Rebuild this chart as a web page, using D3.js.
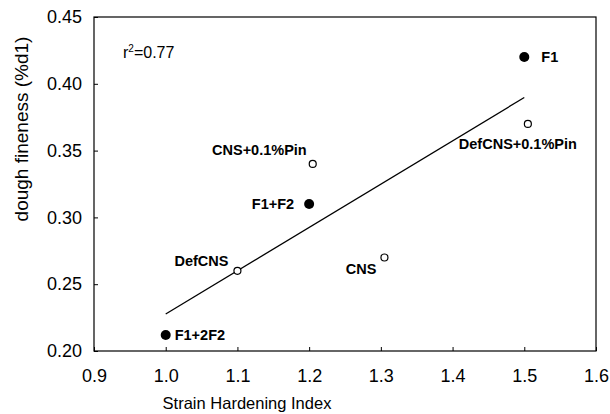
<!DOCTYPE html>
<html>
<head>
<meta charset="utf-8">
<script src="https://cdn.jsdelivr.net/npm/d3@7"></script>
<style>
  body { margin: 0; background: #fff; }
  #chart { width: 610px; height: 414px; }
  text { font-family: "Liberation Sans", Arial, Helvetica, sans-serif; fill: #000; }
</style>
</head>
<body>
<div id="chart"></div>
<script>
// values
const samples = ["F1", "DefCNS+0.1%Pin", "CNS+0.1%Pin", "F1+F2", "DefCNS", "CNS", "F1+2F2"];
const hardening = [1.50, 1.505, 1.205, 1.20, 1.10, 1.305, 1.00];
const fineness = [0.42, 0.37, 0.34, 0.31, 0.26, 0.27, 0.212];
const solid = [true, false, false, true, false, false, true];
const xTicks = [0.9, 1.0, 1.1, 1.2, 1.3, 1.4, 1.5, 1.6];
const yTicks = [0.20, 0.25, 0.30, 0.35, 0.40, 0.45];
const fitFrom = 1.0, fitTo = 1.5;
const rSquared = "0.77";

// where each label sits relative to its point (px)
const labelPlace = [
    { dx: 17, dy: 5, anchor: "start" },
    { dx: -10, dy: 25, anchor: "middle" },
    { dx: -6, dy: -9, anchor: "end" },
    { dx: -15, dy: 5, anchor: "end" },
    { dx: -9, dy: -5, anchor: "end" },
    { dx: -8, dy: 17, anchor: "end" },
    { dx: 9, dy: 5, anchor: "start" }
];

const margin = { top: 17, right: 14, bottom: 63, left: 94 };
const width = 610 - margin.left - margin.right;
const height = 414 - margin.top - margin.bottom;

const svg = d3.select("#chart")
    .append("svg")
    .attr("width", 610)
    .attr("height", 414)
    .append("g")
    .attr("transform", "translate(" + margin.left + "," + margin.top + ")");

const xScale = d3.scaleLinear().domain([0.9, 1.6]).range([0, width]);
const yScale = d3.scaleLinear().domain([0.20, 0.45]).range([height, 0]);

// axes with inward ticks
const xAxis = svg.append("g")
    .attr("transform", "translate(0," + height + ")")
    .call(d3.axisBottom(xScale).tickValues(xTicks).tickFormat(d3.format(".1f"))
        .tickSizeInner(-4).tickSizeOuter(0).tickPadding(18));
const yAxis = svg.append("g")
    .call(d3.axisLeft(yScale).tickValues(yTicks).tickFormat(d3.format(".2f"))
        .tickSizeInner(-4).tickSizeOuter(0).tickPadding(12));

[xAxis, yAxis].forEach(a => {
    a.select(".domain").remove();
    a.selectAll("line").attr("stroke", "#000");
    a.selectAll("text").style("font-size", "18px").attr("font-family", null);
});
xAxis.selectAll("text").attr("dy", "0.71em");

// frame
svg.append("rect")
    .attr("width", width)
    .attr("height", height)
    .attr("fill", "none")
    .attr("stroke", "#000")
    .attr("stroke-width", 1.2);

// least squares line
const mx = d3.mean(hardening), my = d3.mean(fineness);
const sxy = d3.sum(hardening, (v, i) => (v - mx) * (fineness[i] - my));
const sxx = d3.sum(hardening, v => (v - mx) * (v - mx));
const slope = sxy / sxx, icpt = my - slope * mx;

svg.append("line")
    .attr("x1", xScale(fitFrom)).attr("y1", yScale(icpt + slope * fitFrom))
    .attr("x2", xScale(fitTo)).attr("y2", yScale(icpt + slope * fitTo))
    .attr("stroke", "#000")
    .attr("stroke-width", 1.3);

// points
svg.selectAll("circle.pt")
    .data(samples)
    .enter().append("circle")
    .attr("class", "pt")
    .attr("cx", (d, i) => xScale(hardening[i]))
    .attr("cy", (d, i) => yScale(fineness[i]))
    .attr("r", (d, i) => solid[i] ? 5 : 3.5)
    .attr("fill", (d, i) => solid[i] ? "#000" : "#fff")
    .attr("stroke", "#000")
    .attr("stroke-width", (d, i) => solid[i] ? 0 : 1.2);

svg.selectAll("text.lbl")
    .data(samples)
    .enter().append("text")
    .attr("class", "lbl")
    .attr("x", (d, i) => xScale(hardening[i]) + labelPlace[i].dx)
    .attr("y", (d, i) => yScale(fineness[i]) + labelPlace[i].dy)
    .attr("text-anchor", (d, i) => labelPlace[i].anchor)
    .style("font-size", "14.5px")
    .style("font-weight", "bold")
    .text(d => d);

// r squared note
const note = svg.append("text")
    .attr("x", 29)
    .attr("y", 41)
    .style("font-size", "16px");
note.append("tspan").text("r");
note.append("tspan").attr("dy", -6).style("font-size", "10px").text("2");
note.append("tspan").attr("dy", 6).text("=" + rSquared);

// axis titles
svg.append("text")
    .attr("x", 153)
    .attr("y", height + 58)
    .attr("text-anchor", "middle")
    .style("font-size", "16.5px")
    .text("Strain Hardening Index");

svg.append("text")
    .attr("transform", "translate(-66," + 112 + ") rotate(-90)")
    .attr("text-anchor", "middle")
    .style("font-size", "19px")
    .text("dough fineness (%d1)");
</script>
</body>
</html>
